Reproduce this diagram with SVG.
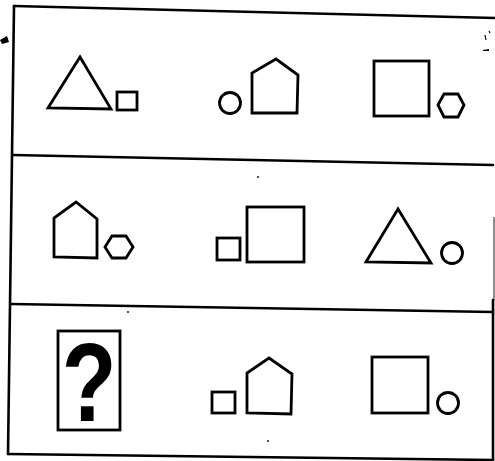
<svg xmlns="http://www.w3.org/2000/svg" width="495" height="461" viewBox="0 0 495 461">
<style>
.frame{fill:none;stroke:#000;stroke-width:2.6;stroke-linecap:round}
.sh{fill:none;stroke:#000;stroke-width:2.8;stroke-linejoin:miter}
.speck{fill:#000}
</style>
<rect width="495" height="461" fill="#fff"/>
<g id="frame">
<line class="frame" x1="14" y1="6" x2="495" y2="18"/>
<line class="frame" x1="14" y1="6" x2="8" y2="454"/>
<line class="frame" x1="13" y1="155" x2="493" y2="165"/>
<line class="frame" x1="11" y1="304" x2="493" y2="312"/>
<line class="frame" x1="8" y1="454" x2="493" y2="460"/>
<line x1="494" y1="217" x2="494" y2="300" stroke="#000" stroke-width="1.5" stroke-opacity="0.6"/>
<line class="frame" x1="493" y1="300" x2="493" y2="460"/>
</g>
<g id="row1">
<polygon class="sh" points="80,57 48,108 111,109"/>
<rect class="sh" x="117" y="92" width="20" height="18"/>
<circle class="sh" cx="230" cy="103" r="10.5"/>
<polygon class="sh" points="252,113 252,73 276,59 298,75 297,113"/>
<rect class="sh" x="374" y="61" width="55" height="55"/>
<polygon class="sh" points="438,105 444,94 458,94 464,105 458,117 444,117"/>
</g>
<g id="row2">
<polygon class="sh" points="54,257 54,218 76,202 97,219 97,258"/>
<polygon class="sh" points="105,247 112,236 126,236 133,247 126,258 112,258"/>
<rect class="sh" x="217" y="238" width="23" height="22"/>
<rect class="sh" x="247" y="207" width="57" height="55"/>
<polygon class="sh" points="398,209 366,262 431,263"/>
<circle class="sh" cx="452" cy="253" r="10.5"/>
</g>
<g id="row3">
<rect class="sh" x="58" y="331" width="62" height="99" stroke-width="2.4"/>
<text x="0" y="0" transform="translate(89,421) scale(0.8,1)" font-family="Liberation Sans, Arial, sans-serif" font-weight="bold" font-size="112" text-anchor="middle">?</text>
<rect class="sh" x="212" y="392" width="23" height="21"/>
<polygon class="sh" points="247,413 247,373 269,358 292,374 291,414"/>
<rect class="sh" x="372" y="357" width="56" height="56"/>
<circle class="sh" cx="448" cy="403" r="10.5"/>
</g>
<g id="specks">
<circle class="speck" cx="258" cy="177" r="0.9"/>
<circle class="speck" cx="268" cy="441" r="0.9"/>
<circle class="speck" cx="128" cy="312" r="0.9"/>
<path class="speck" d="M0,40 L7,36 L9,42 L2,44 Z"/>
<path class="speck" d="M483,50 L489,49 L489,51 L483,51 Z"/>
<path d="M486,40 L485,35 M489,31 L490,33" stroke="#000" stroke-width="1.2" fill="none"/>
</g>
</svg>
